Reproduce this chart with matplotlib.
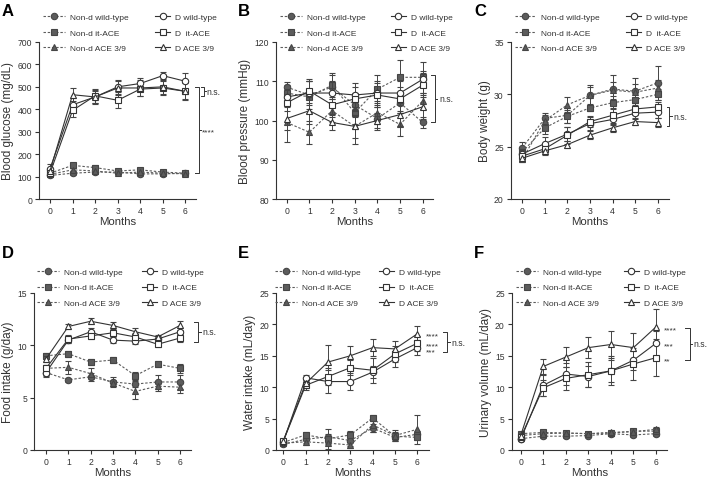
import matplotlib
matplotlib.use('Agg')
import matplotlib.pyplot as plt
from matplotlib.lines import Line2D
import numpy as np

plt.rcParams['font.family'] = ['Liberation Sans', 'DejaVu Sans']

months = [0, 1, 2, 3, 4, 5, 6]
groups = ['Non-d wild-type', 'Non-d it-ACE', 'Non-d ACE 3/9',
          'D wild-type', 'D  it-ACE', 'D ACE 3/9']

# rows follow the order of groups
glucose_mean = [[105, 115, 120, 120, 112, 112, 115],
                [115, 150, 140, 125, 130, 120, 115],
                [110, 130, 125, 115, 120, 115, 112],
                [135, 420, 455, 500, 515, 550, 525],
                [115, 395, 460, 440, 490, 495, 480],
                [125, 465, 455, 495, 495, 500, 480]]
glucose_err = [[5, 8, 8, 8, 8, 6, 6],
               [8, 10, 10, 8, 10, 8, 6],
               [6, 8, 8, 8, 6, 6, 6],
               [20, 30, 25, 30, 25, 15, 35],
               [10, 30, 30, 35, 30, 30, 40],
               [15, 30, 30, 30, 35, 30, 35]]

bp_mean = [[108.5, 106.5, 108.5, 104, 100.5, 104.5, 99.5],
           [107, 106, 109, 102, 108, 111, 111],
           [99.5, 97, 102.5, 98.5, 102, 99, 105],
           [106, 107, 107, 106.5, 107, 107, 110.5],
           [104.5, 107.5, 104, 105.5, 106.5, 105.5, 109],
           [100.5, 102.5, 99.5, 98.5, 100, 101.5, 103.5]]
bp_err = [[1.3, 3.5, 3, 3, 3, 2.5, 1.5],
          [2, 4, 3, 3, 3.5, 4.5, 4],
          [5, 3, 3, 4.5, 3, 3, 2],
          [2, 3, 3, 3, 3, 3, 2],
          [2, 3, 3, 3, 3, 3, 3],
          [3, 3.5, 2, 3, 2, 3, 3]]

bw_mean = [[24.9, 27.7, 28.0, 29.9, 30.5, 30.3, 31.1],
           [24.5, 26.8, 27.9, 28.7, 29.2, 29.5, 30.0],
           [23.8, 27.5, 29.0, 29.9, 30.4, 30.2, 30.6],
           [24.3, 25.3, 26.2, 27.2, 27.6, 28.2, 28.3],
           [24.1, 24.8, 26.1, 27.4, 28.0, 28.6, 28.8],
           [23.9, 24.6, 25.2, 26.1, 26.8, 27.4, 27.3]]
bw_err = [[0.5, 0.5, 0.7, 1.0, 1.3, 1.3, 1.6],
          [0.4, 0.6, 0.6, 0.3, 0.6, 0.7, 0.5],
          [0.3, 0.5, 0.7, 0.8, 0.8, 0.8, 0.8],
          [0.4, 0.6, 0.7, 0.6, 0.5, 0.6, 0.6],
          [0.4, 0.5, 0.8, 0.5, 0.7, 0.6, 0.5],
          [0.3, 0.4, 0.3, 0.4, 0.4, 0.3, 0.4]]

food_mean = [[7.4, 6.7, 7.0, 6.5, 6.3, 6.5, 6.5],
             [9.0, 9.2, 8.4, 8.6, 7.1, 8.2, 7.8],
             [7.8, 7.9, 7.3, 6.4, 5.6, 6.1, 6.0],
             [7.4, 10.5, 11.3, 10.5, 10.4, 10.6, 11.3],
             [7.8, 10.6, 10.9, 11.2, 10.8, 10.1, 10.7],
             [8.7, 11.8, 12.3, 11.9, 11.3, 10.8, 11.9]]
food_err = [[0.3, 0.2, 0.4, 0.5, 0.3, 0.7, 0.7],
            [0.3, 0.3, 0.3, 0.3, 0.4, 0.3, 0.4],
            [0.3, 0.6, 0.5, 0.3, 0.7, 0.5, 0.6],
            [0.4, 0.3, 0.4, 0.3, 0.3, 0.3, 0.4],
            [0.3, 0.4, 0.3, 0.3, 0.4, 0.3, 0.4],
            [0.3, 0.2, 0.3, 0.3, 0.4, 0.2, 0.4]]

water_mean = [[0.9, 1.7, 2.1, 1.5, 3.5, 2.0, 2.5],
              [1.2, 2.4, 1.8, 2.4, 5.1, 2.2, 2.0],
              [1.1, 1.3, 1.1, 0.8, 4.0, 2.3, 3.3],
              [1.3, 11.5, 10.9, 10.9, 12.4, 14.5, 16.3],
              [1.4, 10.3, 11.7, 13.1, 12.7, 15.3, 17.0],
              [1.5, 10.6, 14.0, 15.0, 16.3, 16.1, 18.5]]
water_err = [[0.3, 0.6, 1.2, 0.8, 0.6, 0.5, 0.5],
             [0.3, 0.5, 0.7, 0.7, 0.5, 0.6, 0.4],
             [0.3, 0.5, 0.9, 0.5, 1.2, 0.9, 2.3],
             [0.3, 0.5, 1.9, 1.3, 0.9, 1.3, 1.2],
             [0.3, 0.8, 1.3, 1.2, 2.0, 1.3, 1.2],
             [0.3, 0.7, 2.7, 1.6, 1.3, 1.2, 1.3]]

urine_mean = [[1.8, 2.2, 2.2, 2.3, 2.6, 2.4, 2.6],
              [2.6, 2.8, 2.7, 2.6, 2.7, 3.0, 3.0],
              [2.3, 2.6, 2.7, 2.6, 2.8, 2.9, 3.3],
              [1.7, 10.3, 12.1, 11.7, 12.6, 14.3, 17.0],
              [2.0, 9.9, 11.4, 12.0, 12.6, 13.7, 14.7],
              [2.3, 13.3, 14.8, 16.3, 16.8, 16.3, 19.6]]
urine_err = [[0.3, 0.3, 0.3, 0.3, 0.3, 0.3, 0.3],
             [0.3, 0.3, 0.3, 0.3, 0.3, 0.3, 0.3],
             [0.3, 0.3, 0.3, 0.3, 0.3, 0.3, 0.4],
             [0.3, 1.7, 1.7, 1.7, 1.8, 1.5, 2.0],
             [0.3, 1.3, 1.8, 2.0, 2.3, 2.6, 2.9],
             [0.3, 1.2, 1.6, 1.7, 2.2, 2.3, 2.8]]

#~~~~~~~~~~~~~~~~~~~~~~~~~~~~~~~~~~~~~~~~~~~~~~~~
# styles
#~~~~~~~~~~~~~~~~~~~~~~~~~~~~~~~~~~~~~~~~~~~~~~~~
dark = '#333333'
grey = '#5c5c5c'
markers = ['o', 's', '^', 'o', 's', '^']
dash = (0, (2.2, 1.6))
msize = 4.6

W, H = 707.0, 481.0


def style_of(k):
    if k < 3:
        return dict(marker=markers[k], color=grey, mfc=grey, mec='#454545',
                    ls=dash, lw=0.8)
    return dict(marker=markers[k], color=dark, mfc='white', mec=dark,
                ls='-', lw=0.8)


# axes placed from pixel positions: y-axis line, tick 0, tick 6, end of x-axis
def make_axes(fig, yaxis, x0, x6, right, top, bottom):
    ax = fig.add_axes([yaxis / W, 1 - bottom / H, (right - yaxis) / W, (bottom - top) / H])
    unit = (x6 - x0) / 6.0
    ax.set_xlim(-(x0 - yaxis) / unit, 6 + (right - x6) / unit)
    return ax


def draw_panel(ax, means, errs, yticks, ylabel, leg_y, leg_x1, leg_x2):
    for k in range(6):
        st = style_of(k)
        ax.errorbar(months, means[k], yerr=errs[k], marker=st['marker'],
                    ms=msize, mfc=st['mfc'], mec=st['mec'], mew=0.8,
                    color=st['color'], ls=st['ls'], lw=st['lw'],
                    ecolor='#444444', elinewidth=0.7, capsize=2.2,
                    capthick=0.7, zorder=3 if k < 3 else 4)
    ax.set_ylim(yticks[0], yticks[-1])
    ax.set_xticks(months)
    ax.set_yticks(yticks)
    for s in ['top', 'right']:
        ax.spines[s].set_visible(False)
    for s in ['left', 'bottom']:
        ax.spines[s].set_color(dark)
        ax.spines[s].set_linewidth(0.8)
    ax.tick_params(labelsize=6.2, colors=dark, length=3, width=0.8, pad=2)
    ax.set_xlabel('Months', fontsize=8.2, color=dark, labelpad=0.5)
    ax.set_ylabel(ylabel, fontsize=8.5, color=dark, labelpad=2.5)

    handles = []
    for k in range(6):
        st = style_of(k)
        handles.append(Line2D([], [], marker=st['marker'], ms=msize,
                              mfc=st['mfc'], mec=st['mec'], mew=0.8,
                              color=st['color'], ls=st['ls'], lw=st['lw']))
    # two legend columns, the D column uses shorter handles
    leg_kw = dict(loc='upper left', frameon=False, fontsize=6,
                  handletextpad=0.6, labelspacing=0.95, borderpad=0,
                  borderaxespad=0, labelcolor=dark)
    leg1 = ax.legend(handles[:3], groups[:3], bbox_to_anchor=(leg_x1, leg_y),
                     handlelength=2.6, **leg_kw)
    ax.add_artist(leg1)
    ax.legend(handles[3:], groups[3:], bbox_to_anchor=(leg_x2, leg_y),
              handlelength=1.8, **leg_kw)


def stars(ax, x, y, t):
    # asterisks sit high in the font, nudge them down a little
    ax.annotate(t, (x, y), xytext=(0, -1.6), textcoords='offset points',
                fontsize=6, color=dark, va='center', ha='left',
                annotation_clip=False)


def bracket(ax, x, y1, y2, tick, label, lx, midtick=0.1):
    kw = dict(color=dark, lw=0.7, clip_on=False)
    ax.plot([x - tick, x, x, x - tick], [y1, y1, y2, y2], **kw)
    ym = (y1 + y2) / 2.0
    if midtick:
        ax.plot([x, x + midtick], [ym, ym], **kw)
    if label.startswith('*'):
        stars(ax, lx, ym, label)
    else:
        ax.text(lx, ym, label, fontsize=6.2, color=dark, va='center', ha='left')


fig = plt.figure(figsize=(7.07, 4.81), dpi=100)

axA = make_axes(fig, 39, 50, 185.3, 196, 43, 200)
axB = make_axes(fig, 276.3, 286.7, 422.7, 433, 43, 200)
axC = make_axes(fig, 510.7, 522.3, 657.7, 669, 43, 200)
axD = make_axes(fig, 34.3, 46, 180, 191, 294, 451)
axE = make_axes(fig, 276, 283.3, 417.3, 429, 294, 451)
axF = make_axes(fig, 511.7, 520.7, 656, 667, 294, 451)

draw_panel(axA, glucose_mean, glucose_err, [0, 100, 200, 300, 400, 500, 600, 700],
           'Blood glucose (mg/dL)', 1.185, 0.025, 0.74)
draw_panel(axB, bp_mean, bp_err, [80, 90, 100, 110, 120],
           'Blood pressure (mmHg)', 1.185, 0.025, 0.73)
draw_panel(axC, bw_mean, bw_err, [20, 25, 30, 35],
           'Body weight (g)', 1.185, 0.025, 0.73)
draw_panel(axD, food_mean, food_err, [0, 5, 10, 15],
           'Food intake (g/day)', 1.16, 0.02, 0.69)
draw_panel(axE, water_mean, water_err, [0, 5, 10, 15, 20, 25],
           'Water intake (mL/day)', 1.16, -0.005, 0.67)
draw_panel(axF, urine_mean, urine_err, [0, 5, 10, 15, 20, 25],
           'Urinary volume (mL/day)', 1.16, 0.03, 0.72)

# panel letters
for lab, px, py in [('A', 2, 12), ('B', 238, 12), ('C', 474, 12),
                    ('D', 2, 253), ('E', 238, 253), ('F', 474, 253)]:
    fig.text(px / W, 1 - py / H, lab, fontsize=12, fontweight='bold',
             va='center', ha='left')

# significance marks
bracket(axA, 6.84, 500, 460, 0.15, 'n.s.', 6.95)
bracket(axA, 6.60, 500, 118, 0.17, '****', 6.75)
bracket(axB, 6.54, 111.6, 99.5, 0.19, 'n.s.', 6.72)
bracket(axC, 6.52, 28.8, 27.0, 0.12, 'n.s.', 6.7)
bracket(axD, 6.82, 12.2, 10.35, 0.19, 'n.s.', 7.0)
bracket(axE, 7.35, 18.74, 15.56, 0.18, 'n.s.', 7.52)
bracket(axF, 7.49, 19.43, 14.33, 0.21, 'n.s.', 7.66)

for ax, ys, labs, x in [(axE, [18.5, 16.9, 16.0], ['****', '****', '***'], 6.37),
                        (axF, [19.4, 17.0, 14.5], ['****', '***', '**'], 6.33)]:
    for y, t in zip(ys, labs):
        stars(ax, x, y, t)

fig.savefig('out.png', dpi=100)
